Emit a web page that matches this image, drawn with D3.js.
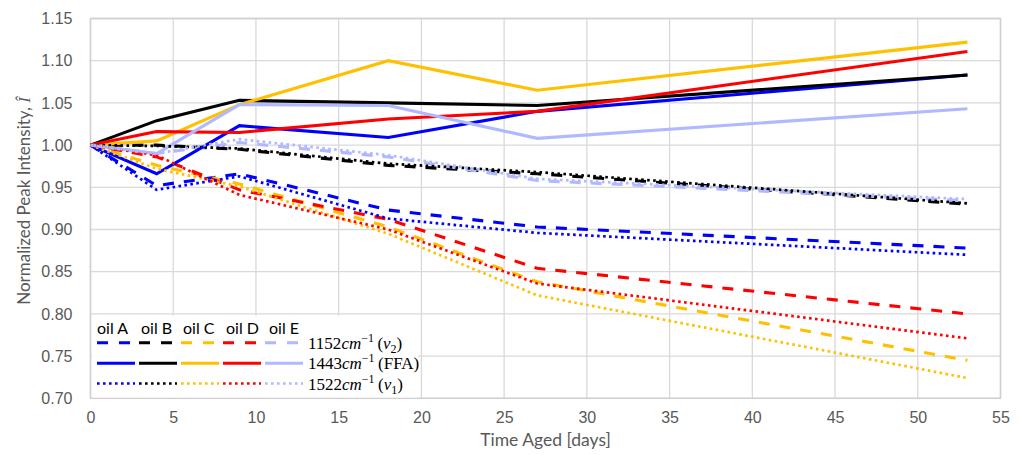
<!DOCTYPE html>
<head>
    <meta charset="utf-8">
    <title>Normalized Peak Intensity</title>
    <script src="https://d3js.org/d3.v7.min.js"></script>
    <style>
        body { margin: 0; background: #fff; }
        svg { font-family: Lato, "Open Sans", sans-serif; }
    </style>
</head>
<body>
    <div id="container"></div>
    <script>
        //------------------------------DATA------------------------------//
        var days = [0, 4, 9, 18, 27, 53];
        var oils = ["oil A", "oil B", "oil C", "oil D", "oil E"];
        var xTicks = [0, 5, 10, 15, 20, 25, 30, 35, 40, 45, 50, 55];
        var yTicks = [0.70, 0.75, 0.80, 0.85, 0.90, 0.95, 1.00, 1.05, 1.10, 1.15];

        // 1152 cm-1 (v2)
        var v2A = [1.000, 0.952, 0.966, 0.923, 0.903, 0.878];
        var v2B = [1.000, 1.000, 0.995, 0.976, 0.966, 0.930];
        var v2C = [1.000, 0.976, 0.954, 0.903, 0.838, 0.745];
        var v2D = [1.000, 0.986, 0.947, 0.912, 0.854, 0.800];
        var v2E = [1.000, 0.990, 1.003, 0.986, 0.958, 0.934];
        // 1443 cm-1 (FFA)
        var ffaA = [1.000, 0.966, 1.023, 1.009, 1.040, 1.083];
        var ffaB = [1.000, 1.029, 1.053, 1.050, 1.047, 1.083];
        var ffaC = [1.000, 1.005, 1.048, 1.100, 1.065, 1.122];
        var ffaD = [1.000, 1.016, 1.015, 1.031, 1.040, 1.111];
        var ffaE = [1.000, 0.990, 1.048, 1.047, 1.008, 1.043];
        // 1522 cm-1 (v1)
        var v1A = [1.000, 0.947, 0.963, 0.913, 0.896, 0.870];
        var v1B = [1.000, 0.999, 0.996, 0.978, 0.968, 0.931];
        var v1C = [1.000, 0.972, 0.951, 0.895, 0.822, 0.724];
        var v1D = [1.000, 0.988, 0.941, 0.900, 0.836, 0.771];
        var v1E = [1.000, 0.990, 1.007, 0.988, 0.960, 0.936];

        var colors = ["#0000ff", "#000000", "#ffc000", "#ff0000", "#b0b8ff"];
        var dashes = { v2: "11,10", ffa: null, v1: "2.6,3.4" };

        var groups = [
            { key: "v2", values: [v2A, v2B, v2C, v2D, v2E] },
            { key: "ffa", values: [ffaA, ffaB, ffaC, ffaD, ffaE] },
            { key: "v1", values: [v1A, v1B, v1C, v1D, v1E] }
        ];

        //------------------------------SVG-------------------------------//
        var W = 1022, H = 455;
        var margin = { top: 18.5, right: 21.5, bottom: 56.7, left: 90.5 };
        var width = W - margin.left - margin.right,
            height = H - margin.top - margin.bottom;

        var svg = d3.select("#container").append("svg")
            .attr("width", W).attr("height", H);
        var g = svg.append("g")
            .attr("transform", "translate(" + margin.left + "," + margin.top + ")");

        var x = d3.scaleLinear().domain([0, 55]).range([0, width]);
        var y = d3.scaleLinear().domain([0.70, 1.15]).range([height, 0]);

        //-----------------------------GRID-------------------------------//
        g.append("g").selectAll("line").data(xTicks).enter().append("line")
            .attr("x1", d => x(d)).attr("x2", d => x(d))
            .attr("y1", 0).attr("y2", height)
            .attr("stroke", "#d9d9d9").attr("stroke-width", 1.3);
        g.append("g").selectAll("line").data(yTicks).enter().append("line")
            .attr("y1", d => y(d)).attr("y2", d => y(d))
            .attr("x1", 0).attr("x2", width)
            .attr("stroke", "#d9d9d9").attr("stroke-width", 1.3);
        g.append("rect").attr("width", width).attr("height", height)
            .attr("fill", "none").attr("stroke", "#d0d0d0").attr("stroke-width", 1.5);

        //-----------------------------AXES-------------------------------//
        var xaxis = d3.axisBottom(x).tickValues(xTicks).tickSize(0).tickPadding(13);
        var yaxis = d3.axisLeft(y).tickValues(yTicks).tickSize(0).tickPadding(18)
            .tickFormat(d3.format(".2f"));

        g.append("g").attr("transform", "translate(0," + height + ")").call(xaxis)
            .call(a => a.select(".domain").remove())
            .selectAll("text").attr("fill", "#595959").style("font-size", "16px");
        g.append("g").call(yaxis)
            .call(a => a.select(".domain").remove())
            .selectAll("text").attr("fill", "#595959").style("font-size", "16px");

        svg.append("text")
            .attr("x", margin.left + width / 2).attr("y", 446)
            .attr("text-anchor", "middle").attr("fill", "#595959")
            .style("font-size", "17.5px").text("Time Aged [days]");

        var ylab = svg.append("text")
            .attr("transform", "translate(30,201) rotate(-90)")
            .attr("text-anchor", "middle").attr("fill", "#595959")
            .style("font-size", "17px");
        ylab.append("tspan").text("Normalized Peak Intensity, ");
        ylab.append("tspan").style("font-family", "'Liberation Serif', serif")
            .style("font-style", "italic").text("\u00CE");

        //----------------------------LINES-------------------------------//
        var line = d3.line()
            .x((d, i) => x(days[i]))
            .y(d => y(d));

        groups.forEach(function (grp) {
            g.append("g").selectAll("path").data(grp.values).enter().append("path")
                .attr("d", d => line(d))
                .attr("fill", "none")
                .attr("stroke", (d, i) => colors[i])
                .attr("stroke-width", grp.key === "v1" ? 2.7 : 3.1)
                .attr("stroke-dasharray", dashes[grp.key]);
        });

        //----------------------------LEGEND------------------------------//
        var lg = svg.append("g");
        lg.append("rect").attr("x", 92).attr("y", 315.5).attr("width", 326).attr("height", 82)
            .attr("fill", "#fff");

        var segX = [97, 139, 181, 223, 265], segW = 38;
        var labX = [97, 141, 183, 226, 269];
        lg.selectAll(".oil").data(oils).enter().append("text")
            .attr("x", (d, i) => labX[i]).attr("y", 334)
            .attr("fill", "#000").style("font-size", "16px").text(d => d);

        var rowY = [342.7, 363.3, 383.5];
        groups.forEach(function (grp, r) {
            lg.append("g").selectAll("line").data(oils).enter().append("line")
                .attr("x1", (d, i) => segX[i]).attr("x2", (d, i) => segX[i] + segW)
                .attr("y1", rowY[r]).attr("y2", rowY[r])
                .attr("stroke", (d, i) => colors[i])
                .attr("stroke-width", grp.key === "v1" ? 2.7 : 3.1)
                .attr("stroke-dasharray", grp.key === "v2" ? "11,11" : dashes[grp.key]);
        });

        var serif = "'Liberation Serif', 'DejaVu Serif', serif";
        function mathLabel(yy, num, tail) {
            var t = lg.append("text").attr("x", 308).attr("y", yy + 6)
                .style("font-family", serif).style("font-size", "17px").attr("fill", "#000");
            t.append("tspan").text(num);
            t.append("tspan").style("font-style", "italic").text("cm");
            t.append("tspan").attr("dy", -7).style("font-size", "12px").text("\u22121");
            t.append("tspan").attr("dy", 7).text("\u2009(");
            tail(t);
            return t;
        }
        mathLabel(rowY[0], "1152", function (t) {
            t.append("tspan").style("font-style", "italic").text("\u03BD");
            t.append("tspan").attr("dy", 4).style("font-size", "12px").text("2");
            t.append("tspan").attr("dy", -4).text(")");
        });
        mathLabel(rowY[1], "1443", function (t) {
            t.append("tspan").text("FFA)");
        });
        mathLabel(rowY[2], "1522", function (t) {
            t.append("tspan").style("font-style", "italic").text("\u03BD");
            t.append("tspan").attr("dy", 4).style("font-size", "12px").text("1");
            t.append("tspan").attr("dy", -4).text(")");
        });
    </script>
</body>
